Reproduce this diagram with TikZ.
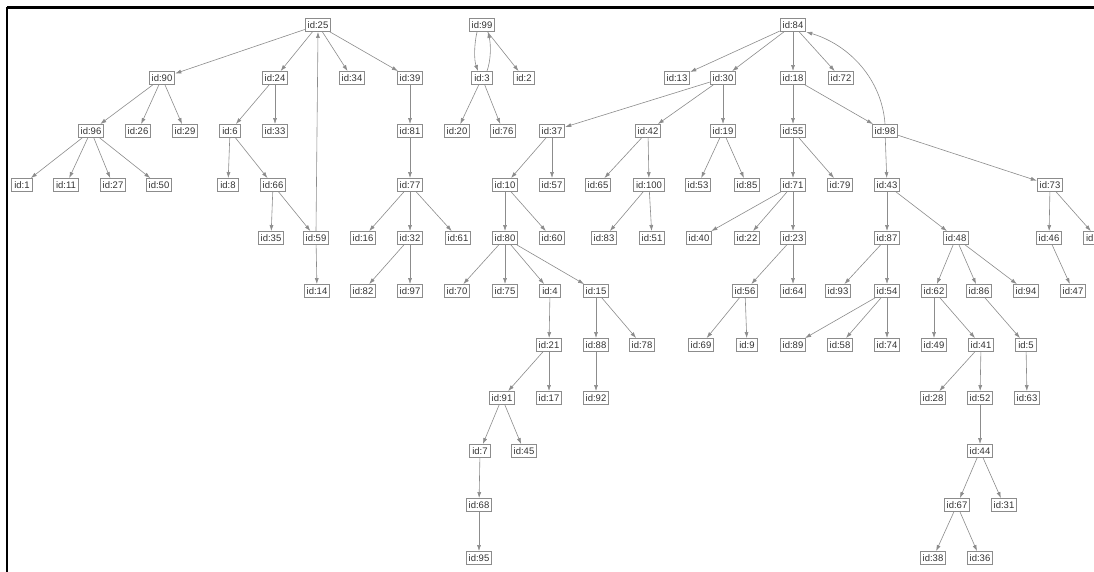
\documentclass[tikz,border=0pt]{standalone}
\usepackage{fontspec}
\setmainfont{Liberation Sans}
\usetikzlibrary{arrows.meta}
\tikzset{
  idbox/.style={draw=black!45, line width=0.9pt, fill=white, inner xsep=2.5pt, inner ysep=0pt,
    minimum height=13pt, font=\fontsize{9.5}{10}\selectfont, text=black!80},
  link/.style={draw=black!45, line width=0.6pt, -{Latex[length=6pt,width=4pt]}},
  frame/.style={line width=2.4pt, draw=black}
}
\begin{document}
\begin{tikzpicture}[x=1pt,y=-1pt]
\useasboundingbox (0,0) rectangle (1094,572);
\clip (0,0) rectangle (1094,572);
\fill[white] (0,0) rectangle (1094,572);
\draw[frame] (7,7.5) -- (1094,7.5);
\draw[frame] (7,7.5) -- (7,572);
% row 0
\node[idbox] (n25) at (318,25) {id:25};
\node[idbox] (n99) at (482,25) {id:99};
\node[idbox] (n84) at (793,25) {id:84};
% row 1
\node[idbox] (n90) at (162,78) {id:90};
\node[idbox] (n24) at (275,78) {id:24};
\node[idbox] (n34) at (352,78) {id:34};
\node[idbox] (n39) at (410,78) {id:39};
\node[idbox] (n3) at (482,78) {id:3};
\node[idbox] (n2) at (524,78) {id:2};
\node[idbox] (n13) at (677,78) {id:13};
\node[idbox] (n30) at (723,78) {id:30};
\node[idbox] (n18) at (793,78) {id:18};
\node[idbox] (n72) at (841,78) {id:72};
% row 2
\node[idbox] (n96) at (91,131) {id:96};
\node[idbox] (n26) at (138,131) {id:26};
\node[idbox] (n29) at (185,131) {id:29};
\node[idbox] (n6) at (230,131) {id:6};
\node[idbox] (n33) at (275,131) {id:33};
\node[idbox] (n81) at (410,131) {id:81};
\node[idbox] (n20) at (457,131) {id:20};
\node[idbox] (n76) at (503,131) {id:76};
\node[idbox] (n37) at (552,131) {id:37};
\node[idbox] (n42) at (648,131) {id:42};
\node[idbox] (n19) at (723,131) {id:19};
\node[idbox] (n55) at (793,131) {id:55};
\node[idbox] (n98) at (885,131) {id:98};
% row 3
\node[idbox] (n1) at (22,185) {id:1};
\node[idbox] (n11) at (66,185) {id:11};
\node[idbox] (n27) at (113,185) {id:27};
\node[idbox] (n50) at (159,185) {id:50};
\node[idbox] (n8) at (228,185) {id:8};
\node[idbox] (n66) at (273,185) {id:66};
\node[idbox] (n77) at (410,185) {id:77};
\node[idbox] (n10) at (505,185) {id:10};
\node[idbox] (n57) at (552,185) {id:57};
\node[idbox] (n65) at (598,185) {id:65};
\node[idbox] (n100) at (649,185) {id:100};
\node[idbox] (n53) at (698,185) {id:53};
\node[idbox] (n85) at (747,185) {id:85};
\node[idbox] (n71) at (793,185) {id:71};
\node[idbox] (n79) at (840,185) {id:79};
\node[idbox] (n43) at (887,185) {id:43};
\node[idbox] (n73) at (1050,185) {id:73};
% row 4
\node[idbox] (n35) at (271,238) {id:35};
\node[idbox] (n59) at (316,238) {id:59};
\node[idbox] (n16) at (363,238) {id:16};
\node[idbox] (n32) at (410,238) {id:32};
\node[idbox] (n61) at (458,238) {id:61};
\node[idbox] (n80) at (505,238) {id:80};
\node[idbox] (n60) at (552,238) {id:60};
\node[idbox] (n83) at (604,238) {id:83};
\node[idbox] (n51) at (652,238) {id:51};
\node[idbox] (n40) at (699,238) {id:40};
\node[idbox] (n22) at (747,238) {id:22};
\node[idbox] (n23) at (793,238) {id:23};
\node[idbox] (n87) at (887,238) {id:87};
\node[idbox] (n48) at (956,238) {id:48};
\node[idbox] (n46) at (1049,238) {id:46};
\node[idbox, text width=22pt, align=left] (ncut) at (1097,238) {id};
% row 5
\node[idbox] (n14) at (317,291) {id:14};
\node[idbox] (n82) at (363,291) {id:82};
\node[idbox] (n97) at (410,291) {id:97};
\node[idbox] (n70) at (457,291) {id:70};
\node[idbox] (n75) at (505,291) {id:75};
\node[idbox] (n4) at (550,291) {id:4};
\node[idbox] (n15) at (596,291) {id:15};
\node[idbox] (n56) at (745,291) {id:56};
\node[idbox] (n64) at (793,291) {id:64};
\node[idbox] (n93) at (838,291) {id:93};
\node[idbox] (n54) at (887,291) {id:54};
\node[idbox] (n62) at (934,291) {id:62};
\node[idbox] (n86) at (979,291) {id:86};
\node[idbox] (n94) at (1026,291) {id:94};
\node[idbox] (n47) at (1073,291) {id:47};
% row 6
\node[idbox] (n21) at (549,345) {id:21};
\node[idbox] (n88) at (596,345) {id:88};
\node[idbox] (n78) at (642,345) {id:78};
\node[idbox] (n69) at (701,345) {id:69};
\node[idbox] (n9) at (747,345) {id:9};
\node[idbox] (n89) at (793,345) {id:89};
\node[idbox] (n58) at (840,345) {id:58};
\node[idbox] (n74) at (887,345) {id:74};
\node[idbox] (n49) at (934,345) {id:49};
\node[idbox] (n41) at (981,345) {id:41};
\node[idbox] (n5) at (1026,345) {id:5};
% row 7
\node[idbox] (n91) at (502,398) {id:91};
\node[idbox] (n17) at (549,398) {id:17};
\node[idbox] (n92) at (596,398) {id:92};
\node[idbox] (n28) at (933,398) {id:28};
\node[idbox] (n52) at (980,398) {id:52};
\node[idbox] (n63) at (1027,398) {id:63};
% row 8
\node[idbox] (n7) at (480,451) {id:7};
\node[idbox] (n45) at (524,451) {id:45};
\node[idbox] (n44) at (980,451) {id:44};
% row 9
\node[idbox] (n68) at (479,505) {id:68};
\node[idbox] (n67) at (957,505) {id:67};
\node[idbox] (n31) at (1004,505) {id:31};
% row 10
\node[idbox] (n95) at (479,558) {id:95};
\node[idbox] (n38) at (933,558) {id:38};
\node[idbox] (n36) at (980,558) {id:36};
% edges
\foreach \a/\b in {25/90,25/24,25/34,25/39,90/96,90/26,90/29,96/1,96/11,96/27,96/50,
  24/6,24/33,6/8,6/66,66/35,66/59,59/14,39/81,81/77,77/16,77/32,77/61,32/82,32/97,
  99/2,3/20,3/76,84/13,84/30,84/18,84/72,30/37,30/42,30/19,37/10,37/57,10/80,10/60,
  80/70,80/75,80/4,80/15,4/21,21/91,21/17,91/7,91/45,7/68,68/95,15/88,15/78,88/92,
  42/65,42/100,100/83,100/51,19/53,19/85,18/55,18/98,55/71,55/79,71/40,71/22,71/23,
  23/56,23/64,56/69,56/9,98/43,98/73,43/87,43/48,87/93,87/54,54/89,54/58,54/74,
  48/62,48/86,48/94,62/49,62/41,41/28,41/52,52/44,44/67,44/31,67/38,67/36,86/5,5/63,
  73/46,73/cut,46/47}
  {\draw[link] (n\a) -- (n\b);}
\draw[link] (n59.north) -- (n25.south);
\draw[link] ([xshift=-5pt]n99.south) .. controls (474,45) and (474,60) .. ([xshift=-4pt]n3.north);
\draw[link] ([xshift=5pt]n3.north) .. controls (491,60) and (491,45) .. ([xshift=6pt]n99.south);
\draw[link] (n98.north) .. controls (882,80) and (850,45) .. (n84.south east);
\end{tikzpicture}
\end{document}
